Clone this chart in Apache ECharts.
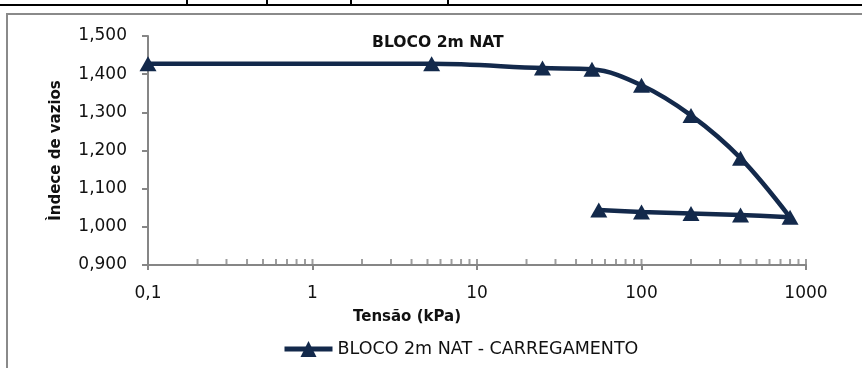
<!DOCTYPE html>
<html>
<head>
<meta charset="utf-8">
<script src="https://cdn.jsdelivr.net/npm/echarts@6/dist/echarts.min.js"></script>
<style>
  html, body { margin: 0; padding: 0; background: #fff; }
  #chart { width: 862px; height: 368px; }
</style>
</head>
<body>
<div id="chart"></div>
<script>
const chartTitle = 'BLOCO 2m NAT';
const seriesName = 'BLOCO 2m NAT - CARREGAMENTO';

// ensaio: carregamento ate 800 kPa e descarregamento
const tensao = [0.1, 5.3, 25, 50, 100, 200, 400, 800, 400, 200, 100, 55];
const indiceVazios = [1.427, 1.427, 1.416, 1.413, 1.371, 1.292, 1.180, 1.025, 1.031, 1.035, 1.039, 1.044];

const xTickLabels = ['0,1', '1', '10', '100', '1000'];
const yTickLabels = ['0,900', '1,000', '1,100', '1,200', '1,300', '1,400', '1,500'];
const minorTicks = [
  0.2, 0.3, 0.4, 0.5, 0.6, 0.7, 0.8, 0.9, 1,
  2, 3, 4, 5, 6, 7, 8, 9, 10,
  20, 30, 40, 50, 60, 70, 80, 90, 100,
  200, 300, 400, 500, 600, 700, 800, 900, 1000
];

const navy = '#13294b';
const axisGray = '#868686';
const font = 'DejaVu Sans';

let myChart = echarts.init(document.getElementById('chart'));

const points = tensao.map((t, i) => [t, indiceVazios[i]]);

let option = {
  animation: false,
  textStyle: { fontFamily: font },
  title: {
    text: chartTitle,
    left: 367,
    top: 30,
    textStyle: { fontFamily: font, fontSize: 15.6, fontWeight: 'bold', color: '#111' }
  },
  legend: {
    data: [seriesName],
    left: 277,
    top: 335,
    itemWidth: 48,
    itemHeight: 20,
    itemGap: 4,
    lineStyle: { width: 5 },
    textStyle: { fontFamily: font, fontSize: 17.5, color: '#111' }
  },
  grid: { left: 148, right: 56, top: 36, bottom: 103 },
  xAxis: {
    type: 'log',
    logBase: 10,
    min: 0.1,
    max: 1000,
    name: 'Tensão (kPa)',
    nameLocation: 'middle',
    nameGap: 45,
    nameTextStyle: { fontFamily: font, fontSize: 15, fontWeight: 'bold', color: '#111', padding: [0, 140, 0, 0] },
    axisLine: { show: true, lineStyle: { color: axisGray, width: 2 } },
    axisTick: { show: true, inside: false, length: 5, lineStyle: { color: axisGray, width: 2 } },
    minorTick: { show: false },
    splitLine: { show: false },
    axisLabel: {
      margin: 20,
      fontFamily: font,
      fontSize: 17,
      color: '#111',
      formatter: v => xTickLabels[Math.round(Math.log10(v)) + 1]
    }
  },
  yAxis: {
    type: 'value',
    min: 0.9,
    max: 1.5,
    interval: 0.1,
    name: 'Ìndece de vazios',
    nameLocation: 'middle',
    nameGap: 84,
    nameTextStyle: { fontFamily: font, fontSize: 15, fontWeight: 'bold', color: '#111' },
    axisLine: { show: true, lineStyle: { color: axisGray, width: 2 } },
    axisTick: { show: true, inside: false, length: 6, lineStyle: { color: axisGray, width: 2 } },
    splitLine: { show: false },
    axisLabel: {
      margin: 21,
      fontFamily: font,
      fontSize: 17,
      color: '#111',
      formatter: v => yTickLabels[Math.round((v - 0.9) / 0.1)]
    }
  },
  graphic: [
    { type: 'rect', silent: true, z: -10, shape: { x: 7, y: 14, width: 900, height: 400 }, style: { fill: null, stroke: '#8a8a8a', lineWidth: 2 } },
    { type: 'line', silent: true, shape: { x1: 0, y1: 5, x2: 862, y2: 5 }, style: { stroke: '#000', lineWidth: 2 } },
    { type: 'line', silent: true, shape: { x1: 187, y1: 0, x2: 187, y2: 5 }, style: { stroke: '#000', lineWidth: 2 } },
    { type: 'line', silent: true, shape: { x1: 267, y1: 0, x2: 267, y2: 5 }, style: { stroke: '#000', lineWidth: 2 } },
    { type: 'line', silent: true, shape: { x1: 351, y1: 0, x2: 351, y2: 5 }, style: { stroke: '#000', lineWidth: 2 } },
    { type: 'line', silent: true, shape: { x1: 448, y1: 0, x2: 448, y2: 5 }, style: { stroke: '#000', lineWidth: 2 } }
  ],
  series: [
    {
      name: 'minor',
      type: 'scatter',
      silent: true,
      symbol: 'rect',
      symbolSize: [2, 6],
      symbolOffset: [0, -3],
      itemStyle: { color: axisGray },
      z: 1,
      data: minorTicks.map(v => [v, 0.9])
    },
    {
      name: seriesName,
      type: 'line',
      smooth: 0.35,
      symbol: 'triangle',
      symbolSize: [17, 15],
      lineStyle: { color: navy, width: 4.5 },
      itemStyle: { color: navy, borderWidth: 0 },
      z: 5,
      data: points
    }
  ]
};

myChart.setOption(option);
</script>
</body>
</html>
